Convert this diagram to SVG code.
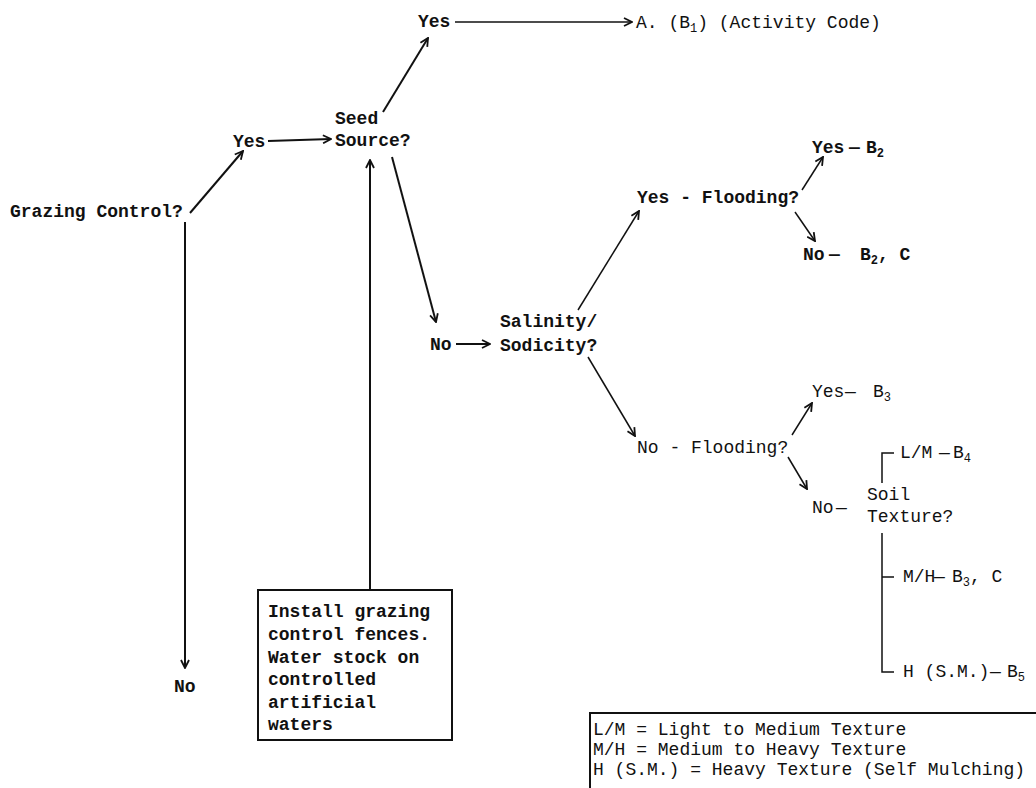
<svg xmlns="http://www.w3.org/2000/svg" width="1036" height="788" viewBox="0 0 1036 788">
<style>
text{font-family:"Liberation Mono","DejaVu Sans Mono",monospace;font-size:18px;fill:#111}
.b{font-weight:bold}
.sub{font-size:12px}
.ln{stroke:#111;stroke-width:2;fill:none}
.thin{stroke:#111;stroke-width:1.5;fill:none}
</style>
<defs>
<marker id="ah" viewBox="0 0 10 10" refX="9" refY="5" markerWidth="10" markerHeight="10" markerUnits="userSpaceOnUse" orient="auto">
<path d="M1,1 L9,5 L1,9" fill="none" stroke="#111" stroke-width="1.8"/>
</marker>
</defs>
<rect width="1036" height="788" fill="#fff"/>
<g id="connectors">
<line class="ln" x1="190" y1="213" x2="243" y2="151" marker-end="url(#ah)"/>
<line class="ln" x1="268" y1="141" x2="331" y2="139" marker-end="url(#ah)"/>
<line class="ln" x1="383" y1="112" x2="428" y2="38" marker-end="url(#ah)"/>
<line class="thin" x1="455" y1="22" x2="632" y2="22" marker-end="url(#ah)"/>
<line class="ln" x1="392" y1="157" x2="436" y2="322" marker-end="url(#ah)"/>
<line class="ln" x1="456" y1="344" x2="490" y2="344" marker-end="url(#ah)"/>
<line class="thin" x1="578" y1="310" x2="639" y2="211" marker-end="url(#ah)"/>
<line class="thin" x1="588" y1="357" x2="635" y2="436" marker-end="url(#ah)"/>
<line class="thin" x1="802" y1="190" x2="823" y2="157" marker-end="url(#ah)"/>
<line class="thin" x1="795" y1="212" x2="815" y2="241" marker-end="url(#ah)"/>
<line class="thin" x1="792" y1="435" x2="812" y2="403" marker-end="url(#ah)"/>
<line class="thin" x1="788" y1="457" x2="807" y2="489" marker-end="url(#ah)"/>
<line class="ln" x1="185" y1="222" x2="185" y2="668" marker-end="url(#ah)"/>
<line class="ln" x1="370" y1="590" x2="370" y2="160" marker-end="url(#ah)"/>
<path class="thin" d="M894,453 H882 V483"/>
<path class="thin" d="M882,533 V672 H894 M882,577 H894"/>
</g>
<g id="grazing"><text class="b" x="10" y="217">Grazing Control?</text></g>
<g id="yes1"><text class="b" x="233" y="147">Yes</text></g>
<g id="seed"><text class="b" x="335" y="124">Seed</text><text class="b" x="335" y="146">Source?</text></g>
<g id="yes2"><text class="b" x="418" y="27">Yes</text></g>
<g id="activity"><text x="636" y="28">A. (B<tspan class="sub" dy="4">1</tspan><tspan dy="-4">) (Activity Code)</tspan></text></g>
<g id="no1"><text class="b" x="430" y="350">No</text></g>
<g id="salinity"><text class="b" x="500" y="327">Salinity/</text><text class="b" x="500" y="351">Sodicity?</text></g>
<g id="yesflood"><text class="b" x="637" y="203">Yes - Flooding?</text></g>
<g id="yesb2"><text class="b" x="812" y="153">Yes<tspan x="849">—</tspan><tspan x="866">B</tspan><tspan class="sub" dy="4">2</tspan></text></g>
<g id="nob2c"><text class="b" x="803" y="260">No<tspan x="829">—</tspan><tspan x="860">B</tspan><tspan class="sub" dy="4">2</tspan><tspan dy="-4">, C</tspan></text></g>
<g id="noflood"><text x="637" y="453">No - Flooding?</text></g>
<g id="yesb3"><text x="812" y="397">Yes<tspan x="845">—</tspan><tspan x="873">B</tspan><tspan class="sub" dy="4">3</tspan></text></g>
<g id="no3"><text x="812" y="513">No<tspan x="836">—</tspan></text></g>
<g id="soil"><text x="867" y="500">Soil</text><text x="867" y="522">Texture?</text></g>
<g id="lm"><text x="900" y="458">L/M<tspan x="939">—</tspan><tspan x="953">B</tspan><tspan class="sub" dy="4">4</tspan></text></g>
<g id="mh"><text x="903" y="582">M/H<tspan x="934">—</tspan><tspan x="952">B</tspan><tspan class="sub" dy="4">3</tspan><tspan dy="-4">, C</tspan></text></g>
<g id="hsm"><text x="903" y="677">H (S.M.)<tspan x="990">—</tspan><tspan x="1007">B</tspan><tspan class="sub" dy="4">5</tspan></text></g>
<g id="no2"><text class="b" x="174" y="692">No</text></g>
<g id="box">
<rect x="258" y="590" width="194" height="150" fill="none" stroke="#111" stroke-width="2"/>
<text class="b" x="268" y="617">Install grazing</text>
<text class="b" x="268" y="640">control fences.</text>
<text class="b" x="268" y="663">Water stock on</text>
<text class="b" x="268" y="685">controlled</text>
<text class="b" x="268" y="708">artificial</text>
<text class="b" x="268" y="730">waters</text>
</g>
<g id="legend">
<path class="ln" d="M1036,713 H590 V788"/>
<text x="593" y="735">L/M = Light to Medium Texture</text>
<text x="593" y="755">M/H = Medium to Heavy Texture</text>
<text x="593" y="775">H (S.M.) = Heavy Texture (Self Mulching)</text>
</g>
</svg>
